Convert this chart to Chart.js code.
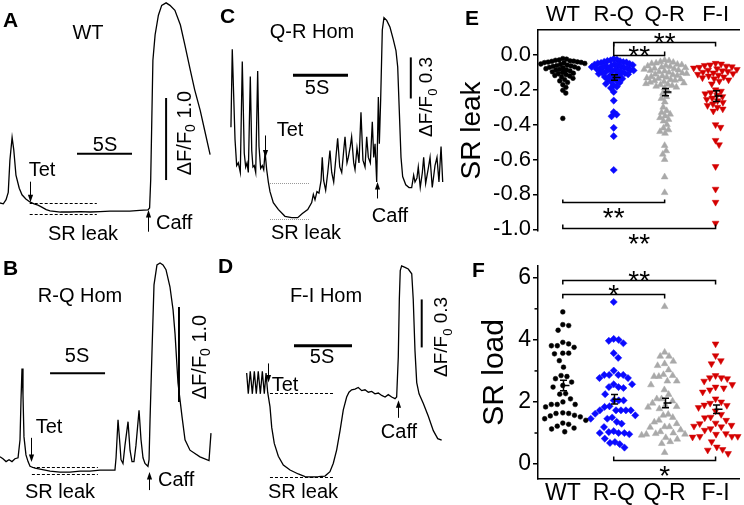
<!DOCTYPE html>
<html><head><meta charset="utf-8">
<script src="https://cdn.jsdelivr.net/npm/chart.js@4.4.1/dist/chart.umd.min.js"></script>
<style>
html,body{margin:0;padding:0;background:#fff}
body{width:744px;height:505px;position:relative;overflow:hidden}
canvas{position:absolute}
</style></head><body>
<canvas id="cA" width="215" height="250" style="left:0;top:0"></canvas>
<canvas id="cB" width="215" height="255" style="left:0;top:250px"></canvas>
<canvas id="cC" width="240" height="250" style="left:215px;top:0"></canvas>
<canvas id="cD" width="240" height="255" style="left:215px;top:250px"></canvas>
<canvas id="cE" width="289" height="250" style="left:455px;top:0"></canvas>
<canvas id="cF" width="289" height="255" style="left:455px;top:250px"></canvas>
<script>
const FONT = '"Liberation Sans", Arial, Helvetica, sans-serif';
Chart.defaults.font.family = FONT;
Chart.defaults.color = '#000';

// ---------- Trace data (time in s, signal in ΔF/F0) ----------
const aTime = [0,0.3,0.55,0.75,0.9,1.1,1.25,1.45,1.75,2.0,2.35,2.75,3.1,3.45,3.8,4.2,4.55,5.5,6.4,7.3,8.2,9.1,10.0,10.9,11.8,12.7,13.45,13.6,13.7,13.8,13.9,14.1,14.4,14.7,15.1,15.45,15.9,16.4,16.8,17.3,17.7,18.2,18.6,19.1];
const aSignal = [0.11,0.10,0.15,0.24,0.63,0.91,0.76,0.45,0.29,0.21,0.16,0.12,0.10,0.085,0.06,0.03,0.015,0.0,0.0,0.005,0.0,0.005,0.01,0.01,0.01,0.02,0.025,0.05,0.39,1.12,1.85,2.16,2.40,2.52,2.55,2.52,2.46,2.28,2.04,1.73,1.49,1.24,1.0,0.70];

const bTime = [0,0.27,0.55,0.82,1.09,1.36,1.64,1.82,1.91,2.0,2.09,2.18,2.36,2.55,2.73,3.18,3.64,4.55,5.45,6.36,7.27,8.18,9.09,10.0,10.45,10.55,10.73,10.91,11.0,11.18,11.36,11.64,11.82,12.0,12.18,12.36,12.64,12.82,13.0,13.18,13.45,13.55,13.64,13.82,14.0,14.27,14.55,14.82,15.09,15.45,15.73,15.91,16.18,16.55,16.82,17.27,18.18,19.0,19.18];
const bSignal = [0.16,0.14,0.11,0.13,0.11,0.14,0.15,0.34,0.76,1.09,0.81,0.37,0.18,0.11,0.06,0.04,0.03,0.01,0.0,0.0,0.01,0.01,0.02,0.02,0.02,0.15,0.55,0.28,0.13,0.09,0.28,0.53,0.23,0.11,0.11,0.28,0.65,0.34,0.15,0.09,0.06,0.13,0.55,1.28,1.97,2.18,2.2,2.18,2.13,1.95,1.71,1.46,0.94,0.58,0.34,0.23,0.16,0.12,0.41];

const cTime = [1.45,1.57,1.82,1.97,2.12,2.3,2.48,2.66,2.79,2.91,3.03,3.21,3.34,3.45,3.57,3.7,3.88,4.0,4.15,4.3,4.43,4.55,4.7,4.85,5.0,5.3,5.75,6.36,6.97,7.52,7.94,8.43,8.79,8.94,9.09,9.27,9.45,9.64,9.75,9.88,10.06,10.25,10.45,10.61,10.79,10.97,11.15,11.34,11.52,11.7,11.82,12.0,12.12,12.3,12.42,12.61,12.73,12.91,13.09,13.27,13.45,13.64,13.79,13.94,14.12,14.3,14.43,14.55,14.7,14.85,14.94,15.06,15.21,15.36,15.61,15.91,16.21,16.45,16.61,16.75,16.91,17.06,17.34,17.64,17.88,18.06,18.18,18.36,18.48,18.66,18.85,18.97,19.15,19.39,19.55,19.75,20.0,20.18,20.36,20.55,20.7];
const cSignal = [0.67,1.24,0.58,0.39,0.41,0.34,1.15,0.48,0.38,0.41,0.34,1.04,0.50,0.38,0.39,0.34,1.08,0.53,0.37,0.39,0.36,0.49,0.36,0.27,0.20,0.12,0.07,0.02,0.01,0.01,0.04,0.07,0.12,0.18,0.14,0.20,0.19,0.28,0.45,0.28,0.21,0.34,0.50,0.34,0.27,0.43,0.59,0.38,0.34,0.50,0.60,0.41,0.45,0.53,0.60,0.41,0.36,0.52,0.41,0.78,0.43,0.38,0.60,0.45,0.41,0.71,0.45,0.55,0.27,0.89,0.55,0.87,1.38,1.47,1.45,1.40,1.31,1.23,1.11,0.80,0.45,0.31,0.25,0.23,0.23,0.32,0.27,0.30,0.38,0.23,0.34,0.45,0.26,0.37,0.45,0.23,0.39,0.45,0.27,0.53,0.27];

const dTime = [2.73,2.87,3.04,3.22,3.39,3.56,3.73,3.91,4.08,4.25,4.40,4.54,4.74,4.89,5.11,5.46,5.89,6.47,7.18,7.76,8.34,8.91,9.48,9.91,10.2,10.49,10.78,11.06,11.35,11.55,11.78,12.07,12.35,12.65,12.93,13.22,13.51,13.79,14.08,14.37,14.66,14.94,15.23,15.52,15.66,15.80,15.89,15.97,16.09,16.38,16.66,16.96,17.09,17.24,17.39,17.59,17.96,18.39,18.82,19.2,19.54];
const dSignal = [0.65,0.52,0.66,0.52,0.66,0.52,0.66,0.52,0.66,0.52,0.65,0.53,0.44,0.31,0.21,0.13,0.075,0.044,0.019,0.002,0.0,0.002,0.006,0.033,0.086,0.17,0.29,0.42,0.50,0.53,0.545,0.55,0.56,0.54,0.545,0.53,0.535,0.52,0.525,0.51,0.50,0.515,0.50,0.49,0.50,0.75,1.11,1.29,1.32,1.31,1.30,1.27,1.11,0.79,0.59,0.52,0.46,0.38,0.29,0.24,0.23];

// ---------- Scatter data ----------
const catLabels = ['WT','R-Q','Q-R','F-I'];
const leakWT = [-0.021,-0.024,-0.029,-0.031,-0.034,-0.036,-0.037,-0.04,-0.041,-0.043,-0.044,-0.046,-0.049,-0.052,-0.055,-0.059,-0.061,-0.063,-0.066,-0.069,-0.071,-0.074,-0.077,-0.079,-0.083,-0.086,-0.088,-0.092,-0.097,-0.101,-0.105,-0.108,-0.113,-0.118,-0.121,-0.126,-0.134,-0.142,-0.149,-0.158,-0.171,-0.186,-0.203,-0.219,-0.364];
const leakRQ = [-0.022,-0.027,-0.031,-0.034,-0.036,-0.039,-0.041,-0.043,-0.046,-0.048,-0.051,-0.053,-0.055,-0.058,-0.06,-0.062,-0.064,-0.067,-0.069,-0.071,-0.073,-0.076,-0.078,-0.08,-0.082,-0.084,-0.087,-0.089,-0.091,-0.094,-0.096,-0.099,-0.102,-0.105,-0.108,-0.111,-0.115,-0.118,-0.122,-0.126,-0.131,-0.136,-0.141,-0.147,-0.153,-0.159,-0.166,-0.174,-0.182,-0.19,-0.212,-0.262,-0.328,-0.342,-0.352,-0.418,-0.466,-0.66];
const leakQR = [-0.03,-0.034,-0.039,-0.043,-0.047,-0.05,-0.054,-0.057,-0.061,-0.064,-0.067,-0.07,-0.074,-0.077,-0.08,-0.083,-0.087,-0.09,-0.093,-0.097,-0.1,-0.104,-0.107,-0.111,-0.114,-0.118,-0.121,-0.125,-0.128,-0.132,-0.135,-0.139,-0.142,-0.146,-0.149,-0.153,-0.157,-0.161,-0.165,-0.169,-0.172,-0.176,-0.18,-0.185,-0.19,-0.21,-0.22,-0.24,-0.25,-0.27,-0.3,-0.32,-0.33,-0.34,-0.35,-0.36,-0.37,-0.38,-0.4,-0.42,-0.43,-0.44,-0.45,-0.52,-0.55,-0.57,-0.6,-0.7,-0.79];
const leakFI = [-0.048,-0.052,-0.057,-0.06,-0.064,-0.068,-0.071,-0.075,-0.079,-0.083,-0.087,-0.091,-0.095,-0.099,-0.103,-0.107,-0.111,-0.116,-0.121,-0.126,-0.131,-0.137,-0.143,-0.15,-0.166,-0.2,-0.208,-0.216,-0.223,-0.231,-0.239,-0.247,-0.255,-0.263,-0.272,-0.281,-0.29,-0.3,-0.31,-0.322,-0.4,-0.415,-0.49,-0.515,-0.64,-0.77,-0.845,-0.965];

const loadWT = [4.9,4.49,4.46,4.31,3.92,3.87,3.76,3.81,3.81,3.57,3.57,3.55,3.33,3.12,2.85,2.82,2.75,2.64,2.53,2.48,2.27,2.25,2.1,2.0,1.92,1.92,1.92,1.84,1.65,1.63,1.63,1.55,1.57,1.52,1.46,1.41,1.32,1.28,1.22,1.16,1.13,1.04];
const loadRQ = [5.22,4.03,4.0,3.97,3.89,3.57,3.42,3.01,2.87,2.87,2.87,2.87,2.77,2.77,2.57,2.57,2.48,2.45,2.48,2.25,2.05,2.05,2.05,1.86,1.84,1.73,1.73,1.73,1.73,1.73,1.57,1.62,1.46,1.46,1.3,1.36,1.5,1.06,1.19,1.0,1.03,1.0,1.0,0.96,0.82,0.71,0.68,0.64,0.53];
const loadQR = [5.07,3.6,3.47,3.47,3.31,3.23,3.17,3.03,2.82,2.88,2.85,2.82,2.67,2.67,2.55,2.39,2.24,2.1,2.1,2.03,1.96,1.89,1.78,1.83,1.85,1.57,1.6,1.41,1.35,1.3,1.2,1.2,1.18,1.04,0.96,0.96,0.98,1.0,0.93,0.72,0.66,0.37,0.8,0.85,1.1,1.5];
const loadFI = [3.87,3.49,3.33,3.23,2.85,2.78,2.78,2.75,2.67,2.56,2.48,2.45,2.39,2.32,1.96,2.0,1.89,1.82,1.71,1.49,1.51,1.41,1.32,1.25,1.3,1.2,1.22,1.14,1.09,0.96,0.98,0.87,0.89,0.89,0.89,0.72,0.55,0.47,0.34,0.45,1.6,2.1,1.9];

const leakTicks = [0.0,-0.2,-0.4,-0.6,-0.8,-1.0];
const loadTicks = [0,2,4,6];
const loadMinorTicks = [1,3,5];

// ---------- helpers ----------
function drawArrow(ctx, x, y0, y1) {
  const dir = Math.sign(y1 - y0);
  ctx.beginPath(); ctx.moveTo(x, y0); ctx.lineTo(x, y1 - dir*5); ctx.stroke();
  ctx.beginPath(); ctx.moveTo(x, y1); ctx.lineTo(x-2.6, y1-dir*7.5); ctx.lineTo(x+2.6, y1-dir*7.5); ctx.closePath(); ctx.fill();
}
function drawDF(ctx, cx, cy, size, val) {
  ctx.save(); ctx.translate(cx, cy); ctx.rotate(-Math.PI/2);
  const f1 = size+'px '+FONT, f2 = Math.round(size*0.7)+'px '+FONT;
  ctx.font=f1; const w1 = ctx.measureText('ΔF/F').width; const w3 = ctx.measureText(' '+val).width;
  ctx.font=f2; const w2 = ctx.measureText('0').width;
  let x = -(w1+w2+w3)/2;
  ctx.textBaseline='middle'; ctx.textAlign='left';
  ctx.font=f1; ctx.fillText('ΔF/F', x, 0); x+=w1;
  ctx.font=f2; ctx.fillText('0', x, size*0.32); x+=w2;
  ctx.font=f1; ctx.fillText(' '+val, x, 0);
  ctx.restore();
}

function traceAnn(s) {
  return { id:'traceAnn', afterDraw(chart) {
    const ctx=chart.ctx, X=v=>chart.scales.x.getPixelForValue(v), Y=v=>chart.scales.y.getPixelForValue(v);
    ctx.save(); ctx.strokeStyle='#000'; ctx.fillStyle='#000';
    s.levels.forEach(l=>{
      ctx.save(); ctx.strokeStyle=s.levelColor; ctx.lineWidth=1; ctx.setLineDash(s.levelDash);
      const y=Math.round(Y(l.y))+0.5;
      ctx.beginPath(); ctx.moveTo(X(l.t0), y); ctx.lineTo(X(l.t1), y); ctx.stroke(); ctx.restore();
    });
    ctx.lineWidth=1;
    s.arrows.forEach(a=>drawArrow(ctx, Math.round(X(a.t))+0.5, Y(a.from), Y(a.to)));
    ctx.lineWidth=s.timeBarWidth;
    const tb=s.timeBar;
    ctx.beginPath(); ctx.moveTo(X(tb.t0), Y(tb.y)); ctx.lineTo(X(tb.t0+tb.len), Y(tb.y)); ctx.stroke();
    ctx.lineWidth=2;
    const ab=s.ampBar;
    ctx.beginPath(); ctx.moveTo(X(ab.t), Y(ab.y0)); ctx.lineTo(X(ab.t), Y(ab.y0+ab.len)); ctx.stroke();
    ctx.textBaseline='middle';
    s.texts.forEach(tx=>{ ctx.font='20px '+FONT; ctx.textAlign=tx.align||'center'; ctx.fillText(tx.text, tx.x, tx.y); });
    ctx.font='20px '+FONT; ctx.textAlign='center';
    ctx.fillText(tb.len+'S', s.tbLabel[0], s.tbLabel[1]);
    ctx.font='bold 21px '+FONT; ctx.textAlign='left'; ctx.textBaseline='alphabetic';
    ctx.fillText(s.letter, s.lx, s.ly);
    drawDF(ctx, s.df[0], s.df[1], s.dfSize, ab.len.toFixed(1));
    ctx.restore();
  }};
}

function traceChart(id, T, S, tMax, yMin, yMax, spec) {
  return new Chart(document.getElementById(id), {
    type:'line',
    data:{datasets:[{data:T.map((t,i)=>({x:t,y:S[i]})), borderColor:'#000', borderWidth:1.3, pointRadius:0, tension:0, fill:false, clip:false}]},
    options:{responsive:false, animation:false, events:[], layout:{padding:0},
      plugins:{legend:{display:false}, tooltip:{enabled:false}},
      scales:{x:{type:'linear', display:false, min:0, max:tMax}, y:{type:'linear', display:false, min:yMin, max:yMax}}},
    plugins:[traceAnn(spec)]
  });
}

traceChart('cA', aTime, aSignal, 215/11, -0.463, 2.585, {
  letter:'A', lx:3, ly:27, levelColor:'#000', levelDash:[3,2],
  levels:[{t0:2.7,t1:8.8,y:0.11},{t0:2.7,t1:8.8,y:-0.024}],
  arrows:[{t:2.73,from:0.37,to:0.12},{t:13.45,from:-0.24,to:0.024}],
  timeBar:{t0:7.0,len:5,y:0.71}, timeBarWidth:2, tbLabel:[105,145],
  ampBar:{t:15.1,y0:0.39,len:1.0}, df:[185,133], dfSize:20,
  texts:[{text:'WT',x:88,y:33},{text:'Tet',x:42,y:170},{text:'SR leak',x:83,y:234},{text:'Caff',x:156,y:223,align:'left'}]
});
traceChart('cB', bTime, bSignal, 215/11, -0.347, 2.337, {
  letter:'B', lx:3, ly:25, levelColor:'#000', levelDash:[3,2],
  levels:[{t0:2.9,t1:8.9,y:0.053},{t0:2.9,t1:8.9,y:-0.021}],
  arrows:[{t:2.82,from:0.36,to:0.105},{t:13.55,from:-0.19,to:0.0}],
  timeBar:{t0:4.55,len:5,y:1.04}, timeBarWidth:2, tbLabel:[77,106],
  ampBar:{t:16.27,y0:0.737,len:1.0}, df:[200,107], dfSize:20,
  texts:[{text:'R-Q Hom',x:80,y:46},{text:'Tet',x:49,y:177},{text:'SR leak',x:60,y:242},{text:'Caff',x:158,y:230,align:'left'}]
});
traceChart('cC', cTime, cSignal, 240/11, -0.226, 1.599, {
  letter:'C', lx:5, ly:23, levelColor:'#999', levelDash:[1,1],
  levels:[{t0:5.0,t1:8.64,y:0.26},{t0:5.0,t1:8.64,y:0.0}],
  arrows:[{t:4.55,from:0.61,to:0.45},{t:14.7,from:0.15,to:0.27}],
  timeBar:{t0:7.09,len:5,y:1.05}, timeBarWidth:3, tbLabel:[102,88],
  ampBar:{t:17.8,y0:0.88,len:0.3}, df:[212,97], dfSize:19,
  texts:[{text:'Q-R Hom',x:97,y:32},{text:'Tet',x:75,y:130},{text:'SR leak',x:91,y:233},{text:'Caff',x:175,y:216}]
});
traceChart('cD', dTime, dSignal, 240/11.6, -0.175, 1.419, {
  letter:'D', lx:3, ly:23, levelColor:'#000', levelDash:[3,2],
  levels:[{t0:4.74,t1:10.17,y:0.525},{t0:4.74,t1:10.34,y:0.0}],
  arrows:[{t:4.6,from:0.71,to:0.59},{t:15.75,from:0.37,to:0.48}],
  timeBar:{t0:6.81,len:5,y:0.82}, timeBarWidth:3, tbLabel:[107,107],
  ampBar:{t:17.82,y0:0.81,len:0.3}, df:[227,87], dfSize:19,
  texts:[{text:'F-I Hom',x:111,y:46},{text:'Tet',x:70,y:135},{text:'SR leak',x:88,y:242},{text:'Caff',x:184,y:182}]
});

// ---------- scatter panels ----------
const groupStyle = [
  {color:'#000000', style:'circle', r:2.4, rot:0, d:4.6},
  {color:'#0a0aff', style:'rectRot', r:3.6, rot:0, d:5.6},
  {color:'#a9a9a9', style:'triangle', r:3.9, rot:0, d:5.6},
  {color:'#d40000', style:'triangle', r:3.9, rot:180, d:5.6}];

function swarm(ys, d) {
  const idx = ys.map((y,i)=>i).sort((a,b)=>ys[a]-ys[b]);
  const placed=[]; const off=new Array(ys.length).fill(0);
  for (const i of idx) {
    const cands=[0];
    for (const p of placed) { const dy=ys[i]-p.y; if (Math.abs(dy)<d) { const dx=Math.sqrt(d*d-dy*dy); cands.push(p.x+dx+0.01, p.x-dx-0.01); } }
    cands.sort((a,b)=>Math.abs(a)-Math.abs(b));
    let best=0;
    for (const c of cands) { if (placed.every(p=>(p.x-c)**2+(p.y-ys[i])**2 >= d*d-0.02)) { best=c; break; } }
    off[i]=best; placed.push({x:best,y:ys[i]});
  }
  return off;
}

function statAnn(o) {
  return { id:'statAnn',
    afterDatasetsDraw(chart) {
      const ctx=chart.ctx, X=v=>chart.scales.x.getPixelForValue(v), Y=v=>chart.scales.y.getPixelForValue(v);
      ctx.save(); ctx.strokeStyle='#000'; ctx.lineWidth=1.5;
      o.groups.forEach((v,i)=>{
        const n=v.length, m=v.reduce((a,b)=>a+b,0)/n;
        const sd=Math.sqrt(v.reduce((a,b)=>a+(b-m)**2,0)/(n-1)), se=sd/Math.sqrt(n);
        const x=Math.round(X(i))+0.5, ym=Y(m), yt=Y(m+se), yb=Y(m-se);
        ctx.beginPath(); ctx.moveTo(x,yt); ctx.lineTo(x,yb);
        ctx.moveTo(x-3.5,yt); ctx.lineTo(x+3.5,yt);
        ctx.moveTo(x-3.5,yb); ctx.lineTo(x+3.5,yb);
        ctx.moveTo(x-2,ym); ctx.lineTo(x+6,ym); ctx.stroke();
      });
      ctx.restore();
    },
    afterDraw(chart) {
      const ctx=chart.ctx, X=v=>chart.scales.x.getPixelForValue(v), Y=v=>chart.scales.y.getPixelForValue(v);
      const area=chart.chartArea;
      ctx.save(); ctx.strokeStyle='#000'; ctx.fillStyle='#000'; ctx.lineWidth=1.5;
      (o.minor||[]).forEach(v=>{ const y=Y(v); ctx.beginPath(); ctx.moveTo(area.left-3.5,y); ctx.lineTo(area.left,y); ctx.stroke(); });
      o.sig.forEach(b=>{
        const x0=X(b.a), x1=X(b.b), y=Math.round(Y(b.y))+0.5;
        ctx.beginPath(); ctx.moveTo(x0,y+b.t0); ctx.lineTo(x0,y); ctx.lineTo(x1,y); ctx.lineTo(x1,y+b.t1); ctx.stroke();
        ctx.font='28px '+FONT; ctx.textAlign='center'; ctx.textBaseline='alphabetic';
        const cy = b.side==='above' ? y-6 : y+9;
        ctx.fillText(b.label, (x0+x1)/2, cy+0.56*28);
      });
      ctx.font='bold 21px '+FONT; ctx.textAlign='left'; ctx.textBaseline='alphabetic';
      ctx.fillText(o.letter, o.lx, o.ly);
      ctx.restore();
    }
  };
}

function scatterChart(id, o) {
  const ch = new Chart(document.getElementById(id), {
    type:'scatter',
    data:{datasets:o.groups.map((g,i)=>({data:g.map(v=>({x:i,y:v})), pointStyle:groupStyle[i].style, pointRadius:groupStyle[i].r, pointRotation:groupStyle[i].rot, backgroundColor:groupStyle[i].color, borderColor:groupStyle[i].color, borderWidth:0.5, clip:false}))},
    options:{responsive:false, animation:false, events:[], layout:{padding:o.padding},
      plugins:{legend:{display:false}, tooltip:{enabled:false}},
      scales:{
        x:{type:'linear', position:o.xPos, min:-0.487, max:3.47,
           afterBuildTicks:s=>{ s.ticks=catLabels.map((c,i)=>({value:i})); },
           afterFit:s=>{ s.height=o.xHeight; },
           ticks:{callback:v=>catLabels[v], font:{size:o.catSize}, color:'#000', padding:o.xPad, maxRotation:0, autoSkip:false},
           grid:{display:false, drawTicks:false}, border:{display:true, color:'#000', width:1.5}},
        y:{type:'linear', min:o.yMin, max:o.yMax,
           afterBuildTicks:s=>{ s.ticks=o.ticks.map(v=>({value:v})); },
           afterFit:s=>{ s.width=83; },
           ticks:{callback:o.fmt, font:{size:o.tickSize}, color:'#000', padding:2},
           grid:{display:true, drawOnChartArea:false, drawTicks:true, tickLength:5, color:'#000', lineWidth:1.5},
           border:{display:true, color:'#000', width:1.5},
           title:{display:true, text:o.title, font:{size:o.titleSize}, color:'#000', padding:{top:o.titlePad, bottom:0}}}
      }},
    plugins:[statAnn(o)]
  });
  const xs=ch.scales.x, ys=ch.scales.y;
  const ppx = xs.getPixelForValue(1)-xs.getPixelForValue(0);
  ch.data.datasets.forEach((ds,i)=>{
    const vals=o.groups[i];
    const off=swarm(vals.map(v=>ys.getPixelForValue(v)), groupStyle[i].d*o.spread);
    const widest=Math.max(1e-6, ...off.map(Math.abs));
    const k=Math.min(1, o.halfWidth/widest);
    ds.data=vals.map((v,j)=>({x:i+off[j]*k/ppx, y:v}));
  });
  ch.update('none');
  return ch;
}

scatterChart('cE', {
  groups:[leakWT, leakRQ, leakQR, leakFI], letter:'E', lx:10, ly:25,
  padding:{left:0,top:0,right:3,bottom:19}, xPos:'top', xHeight:30, xPad:2, catSize:22,
  yMin:-1.01, yMax:0.143, ticks:leakTicks, fmt:v=>v.toFixed(1), tickSize:22,
  title:'SR leak', titleSize:28, titlePad:0, spread:1.0, halfWidth:22,
  sig:[{a:1,b:3,y:0.074,label:'**',side:'above',t0:4,t1:4},
       {a:1,b:2,y:0.0,label:'**',side:'above',t0:-13,t1:-4},
       {a:0,b:2,y:-0.846,label:'**',side:'below',t0:-3,t1:-3},
       {a:0,b:3,y:-0.994,label:'**',side:'below',t0:-4,t1:-4}]
});
scatterChart('cF', {
  groups:[loadWT, loadRQ, loadQR, loadFI], letter:'F', lx:17, ly:27, minor:loadMinorTicks,
  padding:{left:0,top:15,right:3,bottom:0}, xPos:'bottom', xHeight:26, xPad:1, catSize:23,
  yMin:-0.481, yMax:6.385, ticks:loadTicks, fmt:v=>String(v), tickSize:23,
  title:'SR load', titleSize:30, titlePad:22, spread:2.0, halfWidth:23,
  sig:[{a:0,b:3,y:5.94,label:'**',side:'above',t0:4,t1:4},
       {a:0,b:2,y:5.49,label:'*',side:'above',t0:4,t1:4},
       {a:1,b:3,y:0.13,label:'*',side:'below',t0:-4,t1:-4}]
});
</script>
</body></html>
